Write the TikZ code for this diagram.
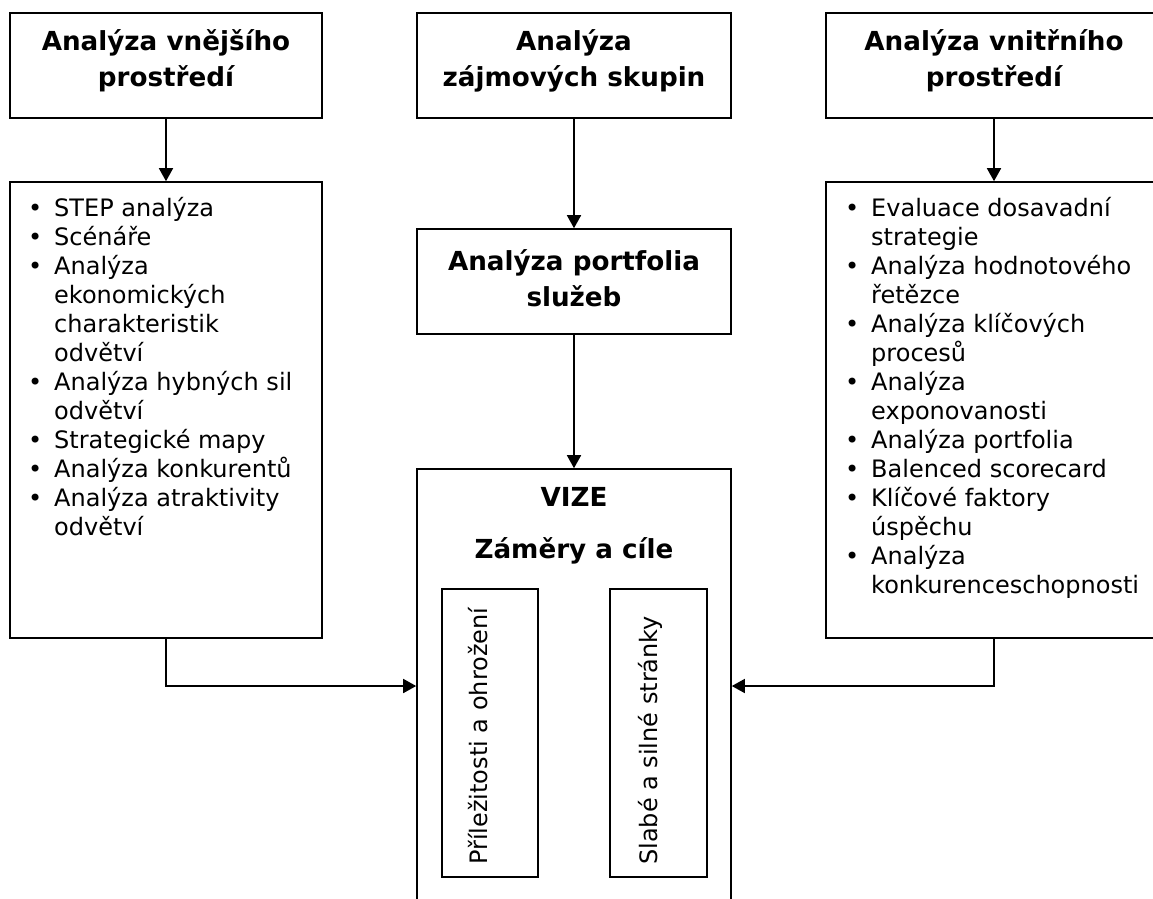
\documentclass[tikz,border=0pt]{standalone}
\usepackage{fontspec}
\setmainfont{DejaVu Sans}
\usetikzlibrary{arrows.meta}
\begin{document}
\begin{tikzpicture}[x=1pt,y=-1pt,
  box/.style={draw,line width=1.6pt,rectangle,inner sep=0pt},
  title/.style={font=\fontsize{26.2}{36}\selectfont\bfseries,align=center},
  listtext/.style={font=\fontsize{24}{29}\selectfont,inner sep=0pt,anchor=north west},
  vtext/.style={font=\fontsize{24}{29}\selectfont,inner sep=0pt,rotate=90,anchor=base west},
  conn/.style={line width=1.6pt,-{Triangle[length=13pt,width=14pt]}}]
\clip (0,0) rectangle (1153,898);
% top row
\node[box,minimum width=312pt,minimum height=105pt] (tl) at (166,65.5) {};
\node[title] (tlt) at (166,61) {Analýza vnějšího\\prostředí};
\node[box,minimum width=314pt,minimum height=105pt] (tm) at (574,65.5) {};
\node[title] (tmt) at (574,61) {Analýza\\zájmových skupin};
\node[box,minimum width=336pt,minimum height=105pt] (tr) at (994,65.5) {};
\node[title] (trt) at (994,61) {Analýza vnitřního\\prostředí};
% list boxes
\node[box,minimum width=312pt,minimum height=456pt] (ll) at (166,410) {};
\node[box,minimum width=336pt,minimum height=456pt] (rl) at (994,410) {};
\node[listtext] (llt) at (28,195.7) {\begin{tabular}{@{}l@{}l@{}}
\makebox[26pt][l]{•}&STEP analýza\\
\makebox[26pt][l]{•}&Scénáře\\
\makebox[26pt][l]{•}&Analýza\\
&ekonomických\\
&charakteristik\\
&odvětví\\
\makebox[26pt][l]{•}&Analýza hybných sil\\
&odvětví\\
\makebox[26pt][l]{•}&Strategické mapy\\
\makebox[26pt][l]{•}&Analýza konkurentů\\
\makebox[26pt][l]{•}&Analýza atraktivity\\
&odvětví
\end{tabular}};
\node[listtext] (rlt) at (845,195.7) {\begin{tabular}{@{}l@{}l@{}}
\makebox[26pt][l]{•}&Evaluace dosavadní\\
&strategie\\
\makebox[26pt][l]{•}&Analýza hodnotového\\
&řetězce\\
\makebox[26pt][l]{•}&Analýza klíčových\\
&procesů\\
\makebox[26pt][l]{•}&Analýza\\
&exponovanosti\\
\makebox[26pt][l]{•}&Analýza portfolia\\
\makebox[26pt][l]{•}&Balenced scorecard\\
\makebox[26pt][l]{•}&Klíčové faktory\\
&úspěchu\\
\makebox[26pt][l]{•}&Analýza\\
&konkurenceschopnosti
\end{tabular}};
% middle column
\node[box,minimum width=314pt,minimum height=105pt] (pm) at (574,281.5) {};
\node[title] (pmt) at (574,278) {Analýza portfolia\\služeb};
\node[box,minimum width=314pt,minimum height=434pt] (vize) at (574,686) {};
\node[title] (vt) at (574,497) {VIZE};
\node[title] (zc) at (574,551) {Záměry a cíle};
\node[box,minimum width=96pt,minimum height=288pt] (ib1) at (490,733) {};
\node[box,minimum width=97pt,minimum height=288pt] (ib2) at (658.5,733) {};
\node[vtext] (t1) at (487,865) {Příležitosti a ohrožení};
\node[vtext] (t2) at (657,865) {Slabé a silné stránky};
% connectors
\draw[conn] (tl.south) -- (ll.north);
\draw[conn] (tm.south) -- (pm.north);
\draw[conn] (tr.south) -- (rl.north);
\draw[conn] (pm.south) -- (vize.north);
\draw[conn] (ll.south) |- (vize.west);
\draw[conn] (rl.south) |- (vize.east);
\end{tikzpicture}
\end{document}
